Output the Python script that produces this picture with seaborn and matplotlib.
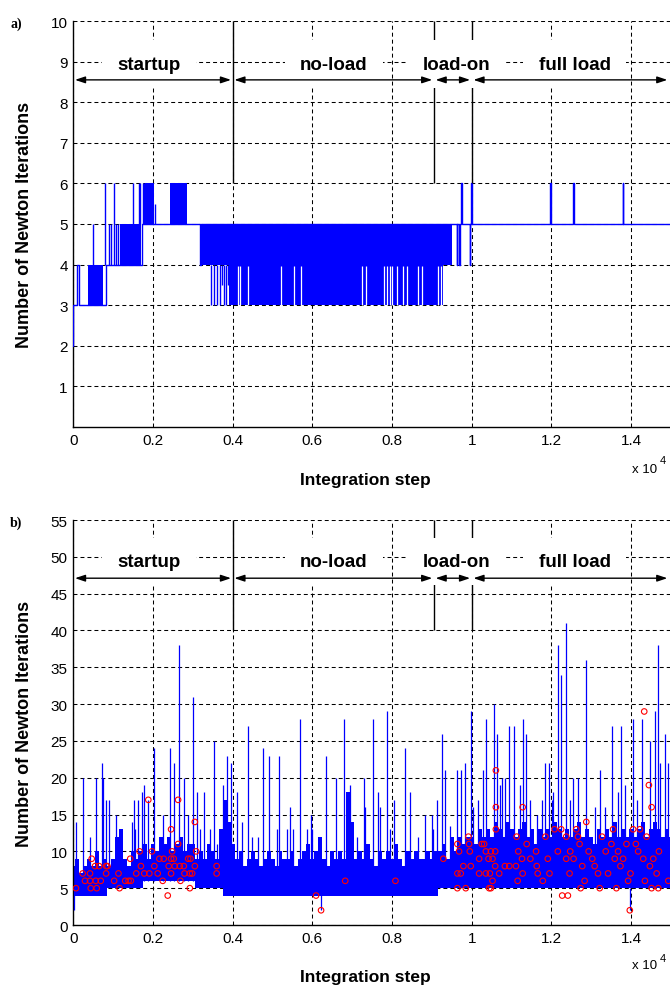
import numpy as np
import pandas as pd
import matplotlib
matplotlib.use("Agg")
import matplotlib.pyplot as plt
import seaborn as sns

# ---------------- data : panel a) ----------------
# main step trace (steps-post)
a_base_x = [0, 5, 101, 151, 824, 1723, 3168, 3200, 9620, 9640, 9680, 9700, 9731, 9745,
            9950, 9965, 9983, 9995, 11965, 11985, 12543, 12555, 13790, 13805, 15000]
a_base_y = [2, 3, 4, 3, 4, 5, 4, 5, 4, 5, 4, 5, 6, 5, 4, 5, 6, 5, 6, 5, 6, 5, 6, 5, 5]
# dense oscillation blocks
a_band_x0 = [370, 1176, 1800, 2437, 3235, 3900]
a_band_x1 = [740, 1697, 2034, 2857, 9498, 9288]
a_band_lo = [3, 4, 5, 5, 4, 3]
a_band_hi = [4, 5, 6, 6, 5, 4]
# isolated jumps
a_spk_x = [504, 790, 908, 950, 1017, 1076, 1134, 1496, 1639, 1680, 1740, 1765, 2050, 2454,
           3462, 3530, 3600, 3680, 3720, 3770, 3830, 3882]
a_spk_lo = [4, 4, 4, 4, 4, 4, 4, 4, 5, 5, 5, 5, 5, 5, 3, 3, 3, 3, 3.5, 3, 3, 3.5]
a_spk_hi = [5, 6, 5, 5, 6, 5, 5, 6, 6, 6, 6, 6, 5.5, 6, 4, 4, 4, 4, 4, 4, 4, 4]
# steps without the drop to 3 inside the 3-4 block
a_gap_x = [4134, 4185, 4387, 5210, 5546, 5714, 7238, 7339, 7807, 7882, 7949, 8008, 8117,
           8284, 8368, 8661, 8761, 9163, 9230]

# ---------------- data : panel b) ----------------
# upper edge of the dense band, read every 100 steps
b_env_x = list(range(0, 15001, 100))
b_env_hi = ([8, 9, 7, 8, 9, 8, 10, 8, 9] +
            [8, 9, 12, 13, 9, 8, 10, 9] +
            [10, 11, 9, 11, 10, 12, 11, 12, 10, 11, 12, 10, 11] +
            [11, 9, 10, 9, 11, 10, 9] +
            [13, 17, 14, 11] +
            [9, 10, 8, 9, 10, 9, 8, 9, 10, 9, 8, 10, 9, 9, 10, 8, 9, 10, 11, 9, 10, 12, 9, 8,
             10, 9, 10, 9] +
            [18, 14] +
            [9, 10, 9, 11, 9, 8, 10, 9, 10, 9, 11, 9, 8, 10, 9, 10, 9, 9, 10, 9, 10] +
            [10, 11, 9, 12, 10, 12, 11, 12] +
            [12, 11, 13, 12, 13, 12, 14, 13, 12, 14, 13, 12, 13, 14, 12, 13, 11, 13, 12, 13,
             12, 14, 13, 12, 13, 12, 13, 14, 12, 13, 12, 11, 13, 12, 13, 12, 14, 12, 13, 12,
             13, 12, 13, 14, 12, 13, 14, 13, 12, 13, 12])
# lower edge of the band (piecewise constant from each breakpoint)
b_lo_x = [0, 850, 1750, 3050, 3750, 9150]
b_lo_y = [4, 5, 6, 5, 4, 5]
b_spk_x = [60, 252, 420, 575, 714, 754, 815, 905, 1076, 1465, 1513, 1548, 1632, 1716, 1782,
           1883, 2030, 2243, 2420, 2538, 2664, 2790, 2888, 3010, 3096, 3180, 3280, 3431,
           3520, 3598, 3766, 3866, 3958, 4101, 4226, 4390, 4477, 4645, 4754, 4906, 5106,
           5168, 5357, 5438, 5522, 5700, 5858, 5958, 6000, 6343, 6594, 6782, 6950, 7112,
           7300, 7318, 7510, 7657, 7695, 7870, 7950, 8060, 8320, 8451, 8661, 8828, 8995,
           9036, 9120, 9255, 9330, 9455, 9630, 9723, 9840, 9985, 10042, 10168, 10280, 10360,
           10560, 10630, 10712, 10754, 10838, 10922, 11070, 11198, 11298, 11361, 11466,
           11633, 11758, 11842, 11926, 12009, 12046, 12170, 12230, 12355, 12467, 12551,
           12676, 12860, 13095, 13221, 13346, 13520, 13681, 13756, 13849, 14041, 14142,
           14275, 14477, 14601, 14665, 14728, 14852, 14933]
b_spk_y = [14, 20, 12, 20, 22, 20, 17, 17, 15, 14, 17, 13, 17, 18, 19,
           17, 24, 15, 24, 22, 38, 20, 15, 31, 18, 13, 18, 13,
           25, 11, 19, 23, 22, 18, 14, 27, 12, 12, 24, 23, 13,
           23, 13, 16, 13, 28, 13, 15, 13, 23, 20, 28, 19, 12,
           20, 16, 28, 18, 16, 29, 13, 17, 24, 18, 12, 15, 15,
           13, 17, 26, 21, 13.5, 21, 21, 22, 29, 16, 17, 21, 28,
           30, 26, 19, 20, 20, 27, 27, 19, 28, 26, 17,
           15, 17, 22, 22, 17, 18, 38, 34, 41, 17, 20,
           20, 36, 16, 21, 16, 27, 18, 27, 19, 28, 17,
           28, 25, 29, 38, 22, 26, 22]
b_dip_x = [10, 6218, 13966]
b_dip_y = [2, 2, 2]
# Newton failures (red circles)
b_circ_x = [67, 235, 294, 420, 420, 462, 437, 563, 588, 546, 647, 689, 824, 857, 824, 1025,
            1134, 1160, 1303, 1387, 1429, 1445, 1580, 1664, 1697, 1782, 1882, 1908, 1975,
            2034, 2118, 2160, 2244, 2269, 2370, 2395, 2454, 2454, 2454, 2479, 2521, 2546,
            2630, 2630, 2689, 2672, 2773, 2790, 2882, 2941, 2924, 2924, 2983, 3050, 3050,
            3084, 3597, 3597, 6092, 6218, 6824, 8084, 9286, 9639, 9681, 9639, 9723, 9790,
            9639, 9849, 9916, 9933, 9950, 9975, 10185, 10252, 10311, 10353, 10420, 10479,
            10521, 10588, 10588, 10605, 10605, 10605, 10185, 10353, 10454, 10521, 10437,
            10479, 10689, 10832, 10941, 11109, 11168, 11126, 11277, 11261, 11277, 11151,
            11378, 11471, 11613, 11630, 11655, 11782, 11849, 11908, 11950, 12076, 12160,
            12244, 12269, 12370, 12370, 12412, 12454, 12471, 12555, 12622, 12664, 12706,
            12773, 12731, 12832, 12874, 12933, 13025, 13084, 13168, 13210, 13269, 13361,
            13420, 13504, 13546, 13588, 13630, 13672, 13731, 13798, 13882, 13924, 13966,
            13983, 14050, 14118, 14176, 14218, 14303, 14328, 14345, 14387, 14445, 14471,
            14513, 14513, 14555, 14639, 14681, 14697, 14933]
b_circ_y = [5, 7, 6, 7, 6, 9, 5, 6, 5, 8, 8, 6, 7, 8, 8, 6,
            7, 5, 6, 6, 9, 6, 7, 10, 8, 7, 17, 7, 10,
            8, 7, 9, 6, 9, 4, 8, 7, 13, 9, 10, 9, 8,
            17, 11, 6, 8, 8, 7, 9, 9, 5, 7, 7, 14, 8,
            10, 8, 7, 4, 2, 6, 6, 9, 11, 10, 7, 7, 8,
            5, 5, 12, 11, 10, 8, 9, 11, 11, 10, 9, 10,
            9, 10, 8, 21, 16, 13, 7, 7, 7, 6, 5,
            5, 7, 8, 8, 8, 10, 12, 16, 9, 7, 6,
            11, 9, 10, 8, 7, 6, 12, 9, 7, 13, 10,
            13, 4, 9, 12, 4, 7, 10, 9, 13, 12, 11,
            8, 5, 6, 14, 10, 9, 8, 7, 5, 12, 10,
            7, 11, 13, 9, 5, 10, 8, 9, 11, 6, 2,
            7, 13, 11, 10, 13, 9, 29, 6, 12, 19, 8,
            16, 5, 9, 7, 5, 10, 6]

# phases
phase_x = [4000, 9050, 10000]
seg_x0 = [0, 4000, 9050, 10000]
seg_x1 = [4000, 9050, 10000, 14950]
phase_names = ["startup", "no-load", "load-on", "full load"]
phase_txt_x = [1893, 6543, 9607, 12580]
xtick_vals = [0, 2000, 4000, 6000, 8000, 10000, 12000, 14000]
xtick_lbls = ["0", "0.2", "0.4", "0.6", "0.8", "1", "1.2", "1.4"]

# ---------------- figure ----------------
sns.set_theme(style="white")
plt.rcParams["font.family"] = ["Liberation Sans", "DejaVu Sans"]

fig = plt.figure(figsize=(6.7, 9.87), dpi=100)
fig.patch.set_facecolor("white")
axA = fig.add_axes([0.1094, 0.5664, 0.8921, 0.4113])
axB = fig.add_axes([0.1094, 0.0618, 0.8921, 0.4103])

BLUE = (0, 0, 1)
dash = (0, (3.8, 2.9))


def style_axes(ax, ymax, yticks):
    ax.set_xlim(0, 15000)
    ax.set_ylim(0, ymax)
    ax.set_facecolor("white")
    ax.set_axisbelow(True)
    ax.grid(True, color="black", linestyle=dash, linewidth=0.75)
    for s in ["top", "right"]:
        ax.spines[s].set_visible(False)
    for s in ["left", "bottom"]:
        ax.spines[s].set_color("black")
        ax.spines[s].set_linewidth(1.0)
    ax.set_xticks(xtick_vals)
    ax.set_xticklabels(xtick_lbls)
    ax.set_yticks(yticks)
    ax.set_yticklabels([str(v) for v in yticks])
    ax.tick_params(direction="in", length=4, width=0.8, color="black",
                   labelsize=11, pad=4, labelcolor="black")
    ax.set_xlabel("")
    ax.set_ylabel("Number of Newton Iterations", fontsize=13, fontweight="bold",
                  color="black")
    ax.yaxis.set_label_coords(-0.068, 0.5)


# ---- panel a
for x0, x1, lo, hi in zip(a_band_x0, a_band_x1, a_band_lo, a_band_hi):
    axA.fill_between([x0, x1], [lo, lo], [hi, hi], color=BLUE, lw=0, zorder=2)
axA.vlines(a_gap_x, 3.0, 3.97, color="white", lw=0.9, zorder=2.5)
sns.lineplot(x=a_base_x, y=a_base_y, ax=axA, estimator=None, sort=False,
             drawstyle="steps-post", color=BLUE, lw=1.0, zorder=3)
axA.vlines(a_spk_x, a_spk_lo, a_spk_hi, color=BLUE, lw=1.0, zorder=3)
style_axes(axA, 10, list(range(1, 11)))

# ---- panel b
env = pd.DataFrame({"x": b_env_x, "hi": b_env_hi})
idx = np.searchsorted(np.array(b_lo_x), env["x"].to_numpy(), side="right") - 1
env["lo"] = np.array(b_lo_y)[idx]
axB.fill_between(env["x"], env["lo"], env["hi"], step="mid", color=BLUE, lw=0, zorder=2)
axB.vlines(b_spk_x, 6, b_spk_y, color=BLUE, lw=0.9, zorder=3)
axB.vlines(b_dip_x, b_dip_y, 5, color=BLUE, lw=0.9, zorder=3)
sns.scatterplot(x=b_circ_x, y=b_circ_y, ax=axB, marker="o", s=16, zorder=6,
                linewidth=0.8, legend=False)
coll = axB.collections[-1]
coll.set_facecolor("none")
coll.set_edgecolor("red")
style_axes(axB, 55, list(range(0, 56, 5)))

# ---- phase annotations
for ax, ylo, ytop, yarr, ytxt in [(axA, 6, 10, 8.55, 8.94), (axB, 40, 55, 47.1, 49.4)]:
    ax.vlines(phase_x, ylo, ytop, color="black", lw=1.0, zorder=4)
    for name, tx in zip(phase_names, phase_txt_x):
        ax.text(tx, ytxt, name, ha="center", va="center", fontsize=13.5,
                fontweight="bold", color="black", zorder=5,
                bbox=dict(facecolor="white", edgecolor="none", pad=11))
    for x0, x1 in zip(seg_x0, seg_x1):
        ax.annotate("", xy=(x1, yarr), xytext=(x0, yarr), zorder=7,
                    arrowprops=dict(arrowstyle="<|-|>,head_length=0.6,head_width=0.2",
                                    color="black", lw=1.0, shrinkA=1.2, shrinkB=1.2,
                                    mutation_scale=10))

# ---- figure texts
W, H = 670.0, 987.0
for ytop_px, lab in [(24, "a)"), (523, "b)")]:
    fig.text(16 / W, 1 - ytop_px / H, lab, ha="center", va="center", fontsize=10,
             fontweight="bold", family=["Liberation Serif", "DejaVu Serif"], color="black")
for y_px in [480, 978]:
    fig.text(365 / W, 1 - y_px / H, "Integration step", ha="center", va="center",
             fontsize=12.5, fontweight="bold", color="black")
for y_px, ys_px in [(470, 461), (966.5, 959)]:
    fig.text(632 / W, 1 - y_px / H, "x 10", ha="left", va="center", fontsize=9.5,
             color="black")
    fig.text(660 / W, 1 - ys_px / H, "4", ha="left", va="center", fontsize=8,
             color="black")

fig.savefig("out.png", dpi=100, facecolor="white")
